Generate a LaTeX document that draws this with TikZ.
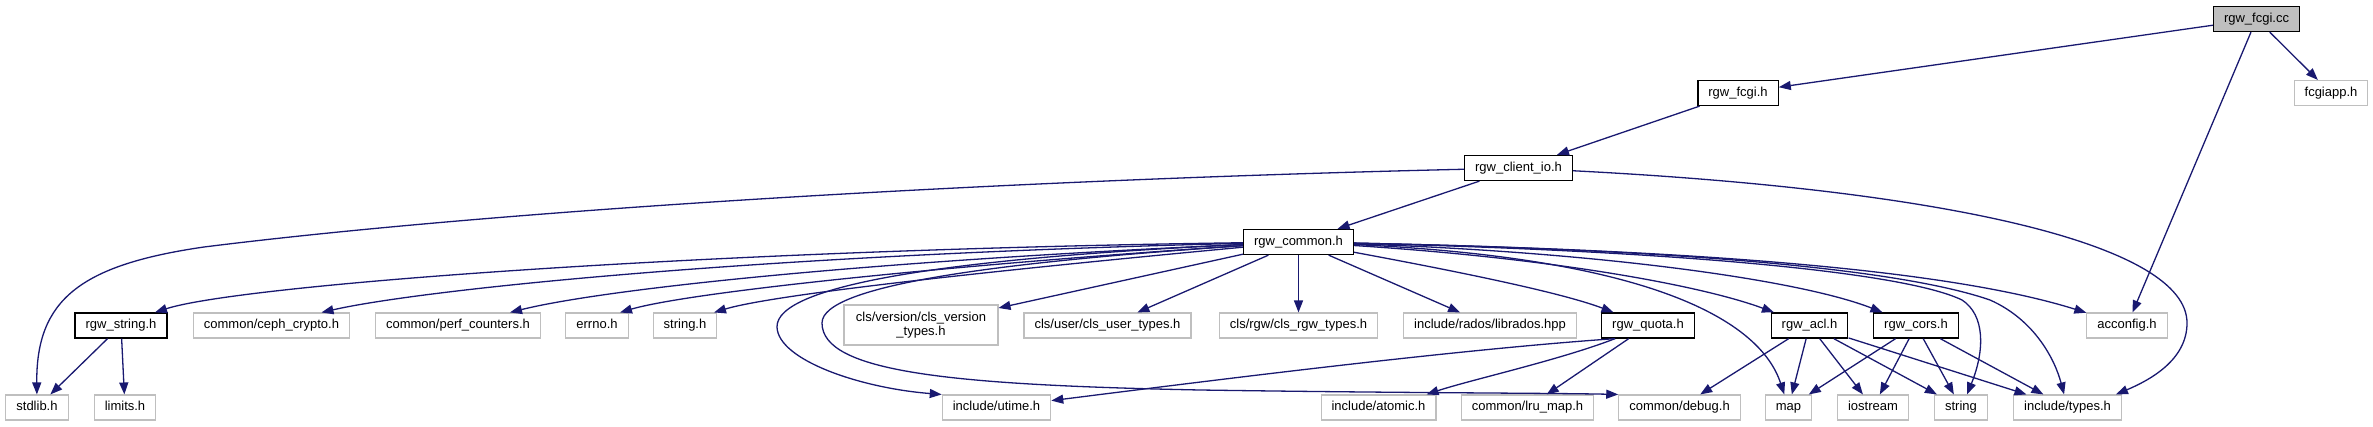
\documentclass[tikz,border=0pt]{standalone}
\usepackage{fontspec}
\setmainfont{Liberation Sans}
\usetikzlibrary{arrows.meta}
\definecolor{incblue}{HTML}{191970}
\definecolor{extgrey}{HTML}{BFBFBF}

\begin{document}
\begin{tikzpicture}[x=1pt, y=-1pt, >={Triangle[length=12pt, width=9pt]},
    hdr/.style={draw=black, line width=1.3pt, minimum height=25pt, inner xsep=10.5pt, inner ysep=0pt,
      font=\fontsize{13}{14.5}\selectfont, text height=9.5pt, text depth=2.7pt},
    exthdr/.style={hdr, draw=extgrey, line width=1.1pt},
    inc/.style={->, color=incblue, line width=1.3pt}]
    \useasboundingbox (0,0) rectangle (2373,427);

    % rank 0 to 3
    \node[hdr, fill=extgrey] (fcc) at (2256.5,19) {rgw\_fcgi.cc};
    \node[hdr] (fh) at (1738,93) {rgw\_fcgi.h};
    \node[exthdr] (fapp) at (2331,93) {fcgiapp.h};
    \node[hdr] (cio) at (1518.5,168) {rgw\_client\_io.h};
    \node[hdr] (cmn) at (1298.5,242) {rgw\_common.h};

    % rank 4
    \node[hdr] (rstr) at (121,325.5) {rgw\_string.h};
    \node[exthdr] (crypto) at (271.5,325.5) {common/ceph\_crypto.h};
    \node[exthdr] (perf) at (458,325.5) {common/perf\_counters.h};
    \node[exthdr] (errno) at (597,325.5) {errno.h};
    \node[exthdr] (strh) at (685,325.5) {string.h};
    \node[draw=extgrey, line width=1.1pt, minimum height=40pt, minimum width=154pt, inner ysep=0pt,
      align=center, font=\fontsize{13}{14.5}\selectfont] (clsver) at (921,325) {cls/version/cls\_version\\\_types.h};
    \node[exthdr] (clsuser) at (1107.5,325.5) {cls/user/cls\_user\_types.h};
    \node[exthdr] (clsrgw) at (1298.5,325.5) {cls/rgw/cls\_rgw\_types.h};
    \node[exthdr] (rados) at (1490,325.5) {include/rados/librados.hpp};
    \node[hdr] (quota) at (1648,325.5) {rgw\_quota.h};
    \node[hdr] (acl) at (1809.5,325.5) {rgw\_acl.h};
    \node[hdr] (cors) at (1916,325.5) {rgw\_cors.h};
    \node[exthdr] (acconf) at (2127,325.5) {acconfig.h};

    % rank 5
    \node[exthdr] (stdlib) at (37,407.5) {stdlib.h};
    \node[exthdr] (limits) at (125,407.5) {limits.h};
    \node[exthdr] (utime) at (996.5,407.5) {include/utime.h};
    \node[exthdr] (atomic) at (1378.5,407.5) {include/atomic.h};
    \node[exthdr] (lru) at (1527.5,407.5) {common/lru\_map.h};
    \node[exthdr] (debug) at (1679.5,407.5) {common/debug.h};
    \node[exthdr] (map) at (1788.5,407.5) {map};
    \node[exthdr] (iostr) at (1873,407.5) {iostream};
    \node[exthdr] (string) at (1961,407.5) {string};
    \node[exthdr] (types) at (2067.5,407.5) {include/types.h};

    \draw[inc] (fcc) -- (fh);
    \draw[inc] (fcc) -- (fapp);
    \draw[inc] (fcc) -- (acconf);
    \draw[inc] (fh) -- (cio);
    \draw[inc] (cio) -- (cmn);
    \draw[inc] (cio) .. controls (1000,180) and (500,210) .. (204,247) .. controls (80,265) and (36,300) .. (stdlib);
    \draw[inc] (cio) .. controls (1950,190) and (2187,245) .. (2187,323) .. controls (2187,360) and (2150,380) .. ([xshift=-6pt]types.north east);

    % rgw_common.h, left side
    \draw[inc] (cmn) .. controls (700,250) and (240,285) .. ([xshift=34pt]rstr.north);
    \draw[inc] (cmn) .. controls (750,255) and (420,290) .. ([xshift=50pt]crypto.north);
    \draw[inc] (cmn) .. controls (850,262) and (600,290) .. ([xshift=52pt]perf.north);
    \draw[inc] (cmn) .. controls (950,265) and (690,292) .. ([xshift=23pt]errno.north);
    \draw[inc] (cmn) .. controls (1000,270) and (775,294) .. ([xshift=29pt]strh.north);
    \draw[inc] (cmn) .. controls (950,258) and (776,285) .. (777,327) .. controls (778,360) and (860,388) .. (utime.north west);
    \draw[inc] (cmn) .. controls (1000,262) and (822,285) .. (822,323) .. controls (822,372) and (950,385) .. (1200,390)
      .. controls (1400,393) and (1550,393) .. (debug.north west);

    % rgw_common.h, downwards and right side
    \draw[inc] (cmn) -- (clsver);
    \draw[inc] (cmn) -- (clsuser);
    \draw[inc] (cmn) -- (clsrgw);
    \draw[inc] (cmn) -- (rados);
    \draw[inc] (cmn) .. controls (1450,270) and (1560,292) .. (quota);
    \draw[inc] (cmn) .. controls (1550,258) and (1700,285) .. (acl);
    \draw[inc] (cmn) .. controls (1600,252) and (1800,280) .. (cors);
    \draw[inc] (cmn) .. controls (1700,250) and (1950,270) .. (acconf);
    \draw[inc] (cmn) .. controls (1650,258) and (1760,320) .. (map);
    \draw[inc] (cmn) .. controls (1650,250) and (1900,270) .. (1962,300) .. controls (1985,315) and (1985,350) .. ([xshift=6pt]string.north);
    \draw[inc] (cmn) .. controls (1600,248) and (1880,262) .. (1990,300) .. controls (2035,320) and (2055,360) .. (types);

    \draw[inc] (rstr) -- (stdlib);
    \draw[inc] (rstr) -- (limits);

    \draw[inc] ([xshift=-33pt]quota.south) .. controls (1450,350) and (1200,382) .. (utime);
    \draw[inc] ([xshift=-33pt]quota.south) .. controls (1560,360) and (1470,380) .. ([xshift=48pt]atomic.north);
    \draw[inc] (quota) -- (lru);

    \draw[inc] (acl) -- (debug);
    \draw[inc] (acl) -- (map);
    \draw[inc] (acl) -- (iostr);
    \draw[inc] (acl) -- (string);
    \draw[inc] (acl) -- (types);

    \draw[inc] (cors) -- (map);
    \draw[inc] (cors) -- (iostr);
    \draw[inc] (cors) -- (string);
    \draw[inc] (cors) -- (types);
\end{tikzpicture}
\end{document}
